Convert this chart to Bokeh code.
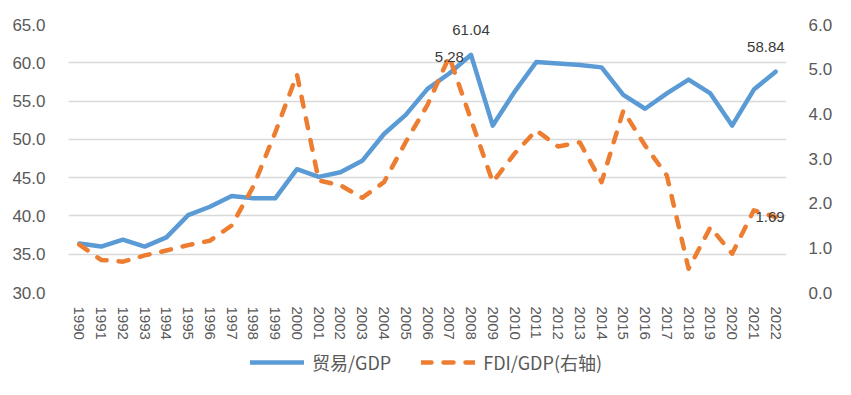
from bokeh.plotting import figure
from bokeh.layouts import column
from bokeh.models import (Range1d, LinearAxis, NumeralTickFormatter, Legend, LegendItem,
                          ColumnDataSource, LabelSet, FixedTicker)
from bokeh.core.properties import value
from bokeh.embed import file_html
from bokeh.resources import INLINE

# ---- data ----
years = [str(y) for y in range(1990, 2023)]
trade_gdp = [36.4, 36.0, 36.9, 36.0, 37.2, 40.1, 41.2, 42.6, 42.3, 42.3,
             46.1, 45.1, 45.7, 47.2, 50.7, 53.2, 56.6, 58.6, 61.04, 51.8,
             56.2, 60.1, 59.9, 59.7, 59.4, 55.8, 54.0, 56.0, 57.8, 56.0,
             51.8, 56.5, 58.84]
fdi_gdp = [1.07, 0.73, 0.69, 0.83, 0.94, 1.06, 1.16, 1.50, 2.38, 3.58,
           4.88, 2.51, 2.40, 2.12, 2.47, 3.37, 4.20, 5.28, 3.87, 2.47,
           3.11, 3.63, 3.27, 3.36, 2.47, 4.07, 3.29, 2.62, 0.53, 1.46,
           0.87, 1.84, 1.69]
left_ticks = [30, 35, 40, 45, 50, 55, 60, 65]
right_ticks = [0, 1, 2, 3, 4, 5, 6]
trade_peak_year = "2008"
fdi_peak_year = "2007"
last_year = "2022"
series_names = ["贸易/GDP", "FDI/GDP(右轴)"]

BLUE = "#5B9BD5"
ORANGE = "#ED7D31"
TICK_COLOR = "#595959"
LABEL_COLOR = "#3a3a3a"
GRID = "#d9d9d9"
LINE_W = 4.5
DASH = "10 12"

p = figure(x_range=years, y_range=Range1d(left_ticks[0], left_ticks[-1]),
           width=835, height=343, output_backend="svg", toolbar_location=None,
           min_border_left=68, min_border_right=43, min_border_top=24,
           min_border_bottom=51)
p.extra_y_ranges = {"right": Range1d(right_ticks[0], right_ticks[-1])}
p.outline_line_color = None

# axes
p.yaxis.ticker = FixedTicker(ticks=left_ticks)
p.yaxis.formatter = NumeralTickFormatter(format="0.0")
p.yaxis.major_label_standoff = 17

ax_r = LinearAxis(y_range_name="right", ticker=FixedTicker(ticks=right_ticks),
                  formatter=NumeralTickFormatter(format="0.0"))
ax_r.major_label_standoff = 16
p.add_layout(ax_r, "right")

for ax in [p.yaxis[0], ax_r]:
    ax.axis_line_color = None
    ax.major_tick_line_color = None
    ax.minor_tick_line_color = None
    ax.major_label_text_font = "Liberation Sans"
    ax.major_label_text_font_size = "17px"
    ax.major_label_text_color = TICK_COLOR

xa = p.xaxis[0]
xa.axis_line_color = None
xa.major_tick_line_color = None
xa.minor_tick_line_color = None
xa.major_label_orientation = "vertical"
xa.major_label_standoff = 8
xa.major_label_text_font = "Liberation Sans"
xa.major_label_text_font_size = "15px"
xa.major_label_text_color = TICK_COLOR

p.xgrid.visible = False
p.ygrid.grid_line_color = GRID
p.ygrid.grid_line_width = 1.5

# lines
line_kw_blue = dict(line_color=BLUE, line_width=LINE_W, line_join="round", line_cap="round")
line_kw_orange = dict(line_color=ORANGE, line_width=LINE_W, line_dash=DASH,
                      line_join="round", line_cap="round")
p.line(x=years, y=trade_gdp, **line_kw_blue)
p.line(x=years, y=fdi_gdp, y_range_name="right", **line_kw_orange)

# data labels
def lbl_src(year, series):
    v = series[years.index(year)]
    return ColumnDataSource(dict(x=[year], y=[v], t=["%.2f" % v]))

lbl_kw = dict(x="x", y="y", text="t", text_baseline="middle",
              text_font=value("Liberation Sans"), text_font_size="15px",
              text_color=LABEL_COLOR)
p.add_layout(LabelSet(source=lbl_src(trade_peak_year, trade_gdp), y_offset=25,
                      text_align="center", **lbl_kw))
p.add_layout(LabelSet(source=lbl_src(last_year, trade_gdp), y_offset=25, x_offset=9,
                      text_align="right", **lbl_kw))
p.add_layout(LabelSet(source=lbl_src(fdi_peak_year, fdi_gdp), y_range_name="right",
                      text_align="center", **lbl_kw))
p.add_layout(LabelSet(source=lbl_src(last_year, fdi_gdp), y_range_name="right",
                      x_offset=9, text_align="right", **lbl_kw))

# legend strip (hidden copies of the series supply the legend glyphs)
lg = figure(x_range=years, y_range=Range1d(100, 101), width=835, height=36,
            output_backend="svg", toolbar_location=None,
            x_axis_type=None, y_axis_type=None, min_border=0)
lg.outline_line_color = None
lg.xgrid.visible = False
lg.ygrid.visible = False
lr1 = lg.line(x=years, y=trade_gdp, visible=False, **line_kw_blue)
lr2 = lg.line(x=years, y=fdi_gdp, visible=False, **line_kw_orange)
legend = Legend(items=[LegendItem(label=series_names[0], renderers=[lr1]),
                       LegendItem(label=series_names[1], renderers=[lr2])],
                location=(182, 4), orientation="horizontal", click_policy="none",
                glyph_width=54, glyph_height=20, label_standoff=8, spacing=30,
                padding=0, margin=0, border_line_color=None,
                background_fill_alpha=0,
                label_text_font="Noto Sans CJK SC", label_text_font_size="18px",
                label_text_color=TICK_COLOR)
lg.add_layout(legend)

layout = column(p, lg, spacing=0)
open("out.html", "w").write(file_html(layout, INLINE))
